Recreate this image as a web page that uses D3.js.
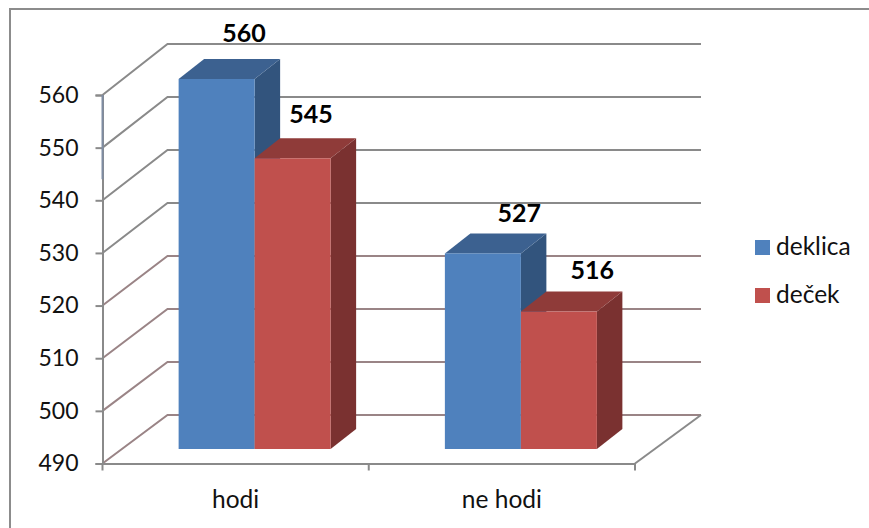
<!DOCTYPE html>
<html>
<head>
<meta charset="utf-8">
<script src="https://cdn.jsdelivr.net/npm/d3@7"></script>
<style>
body { margin: 0; background: #fff; }
text { font-family: Lato, "Open Sans", sans-serif; fill: #111; }
</style>
</head>
<body>
<div id="graph"></div>
<script>
const categories = ["hodi", "ne hodi"];
const seriesNames = ["deklica", "deček"];
const deklica = [560, 527];
const decek = [545, 516];
const tickValues = [490, 500, 510, 520, 530, 540, 550, 560];

const width = 869;
const height = 528;
const depthX = 65;      // wall offset of the 3d box
const barDepthX = 25.5, barDepthY = 20;
const barShift = 19;    // bars sit towards the back wall

// hand placed data labels, same order as rows below
const labelNudge = [[2, -17], [-7, -15], [11, -11], [8, -13]];

const svg = d3.select("#graph").append("svg")
    .attr("width", width)
    .attr("height", height)
    .style("display", "block");

// frame, only top and left survive in the picture
svg.append("path")
    .attr("d", "M10,528V9H869")
    .attr("fill", "none")
    .attr("stroke", "#8c8c8c")
    .attr("stroke-width", 2);

// scales
const yFront = d3.scaleLinear().domain([490, 560]).range([463.5, 95]);
const yBack = d3.scaleLinear().domain([490, 560]).range([415, 44]);
const yBar = d3.scaleLinear().domain([490, 560]).range([449, 79]);
const xCat = d3.scaleBand().domain(categories).range([102.5, 635]);
const xBar = d3.scaleBand().domain(seriesNames).range([0, 152]);

const grey = "#8a8a8a";

// gridlines on side and back wall
svg.append("g")
    .selectAll("path")
    .data(tickValues)
    .join("path")
    .attr("d", d => `M${xCat.range()[0]},${yFront(d)}L${xCat.range()[0] + depthX},${yBack(d)}H${xCat.range()[1] + depthX + 1}`)
    .attr("fill", "none")
    .attr("stroke", d => d < 530 ? "#9a8486" : grey)
    .attr("stroke-width", 2);

// floor, right side
svg.append("line")
    .attr("x1", xCat.range()[1]).attr("y1", yFront(490))
    .attr("x2", xCat.range()[1] + depthX + 1).attr("y2", yBack(490))
    .attr("stroke", grey).attr("stroke-width", 2);

// axes
const yAxis = d3.axisLeft(yFront).tickValues(tickValues).tickSize(7).tickPadding(17);
const xAxis = d3.axisBottom(xCat).tickSize(0).tickPadding(27);

const gy = svg.append("g").attr("transform", `translate(${xCat.range()[0]},0)`).call(yAxis);
gy.select(".domain").attr("stroke", grey).attr("stroke-width", 2);
gy.selectAll("line").attr("stroke", grey).attr("stroke-width", 2);
gy.selectAll("text").style("font-size", "23px");

// upper part of the axis line is tinted blue
svg.append("line")
    .attr("x1", xCat.range()[0]).attr("x2", xCat.range()[0])
    .attr("y1", yFront(560)).attr("y2", yFront(544))
    .attr("stroke", "#7f8da3")
    .attr("stroke-width", 2);

const gx = svg.append("g").attr("transform", `translate(0,${yFront(490)})`).call(xAxis);
gx.select(".domain").attr("stroke", grey).attr("stroke-width", 2);
gx.selectAll("text").style("font-size", "24.5px");

// category boundary ticks
svg.append("g")
    .selectAll("line")
    .data([0, 1, 2])
    .join("line")
    .attr("x1", i => xCat.range()[0] + i * xCat.bandwidth())
    .attr("x2", i => xCat.range()[0] + i * xCat.bandwidth())
    .attr("y1", yFront(490))
    .attr("y2", yFront(490) + 7)
    .attr("stroke", grey)
    .attr("stroke-width", 2);

// bars
const colors = {
    deklica: { front: "#4f81bd", top: "#3c6190", side: "#32547d" },
    "deček": { front: "#c0504d", top: "#8f3b39", side: "#7a3130" }
};

const rows = [];
categories.forEach((c, i) => {
    rows.push({ cat: c, name: seriesNames[0], value: deklica[i] });
    rows.push({ cat: c, name: seriesNames[1], value: decek[i] });
});

function barX(d) {
    return xCat(d.cat) + (xCat.bandwidth() - xBar.range()[1]) / 2 + barShift + xBar(d.name);
}

const bar = svg.append("g")
    .selectAll("g")
    .data(rows)
    .join("g");

bar.append("path")
    .attr("fill", d => colors[d.name].side)
    .attr("d", d => {
        const x = barX(d) + xBar.bandwidth();
        return `M${x},${yBar(d.value)}l${barDepthX},${-barDepthY}V${yBar(490) - barDepthY}l${-barDepthX},${barDepthY}Z`;
    });

bar.append("path")
    .attr("fill", d => colors[d.name].top)
    .attr("d", d => {
        const x = barX(d);
        return `M${x},${yBar(d.value)}l${barDepthX},${-barDepthY}h${xBar.bandwidth()}l${-barDepthX},${barDepthY}Z`;
    });

bar.append("rect")
    .attr("x", d => barX(d))
    .attr("y", d => yBar(d.value))
    .attr("width", xBar.bandwidth())
    .attr("height", d => yBar(490) - yBar(d.value))
    .attr("fill", d => colors[d.name].front);

// data labels
svg.append("g")
    .selectAll("text")
    .data(rows)
    .join("text")
    .attr("x", (d, i) => barX(d) + xBar.bandwidth() / 2 + barDepthX + labelNudge[i][0])
    .attr("y", (d, i) => yBar(d.value) - barDepthY + labelNudge[i][1])
    .attr("text-anchor", "middle")
    .style("font-size", "25px")
    .style("font-weight", "700")
    .style("fill", "#000")
    .text(d => d.value);

// legend
const legend = svg.append("g")
    .selectAll("g")
    .data(seriesNames)
    .join("g")
    .attr("transform", (d, i) => `translate(755,${240 + i * 48})`);

legend.append("rect")
    .attr("width", 15).attr("height", 15)
    .attr("fill", d => colors[d].front);

legend.append("text")
    .attr("x", 21).attr("y", 14.5)
    .style("font-size", "24.5px")
    .text(d => d);
</script>
</body>
</html>
